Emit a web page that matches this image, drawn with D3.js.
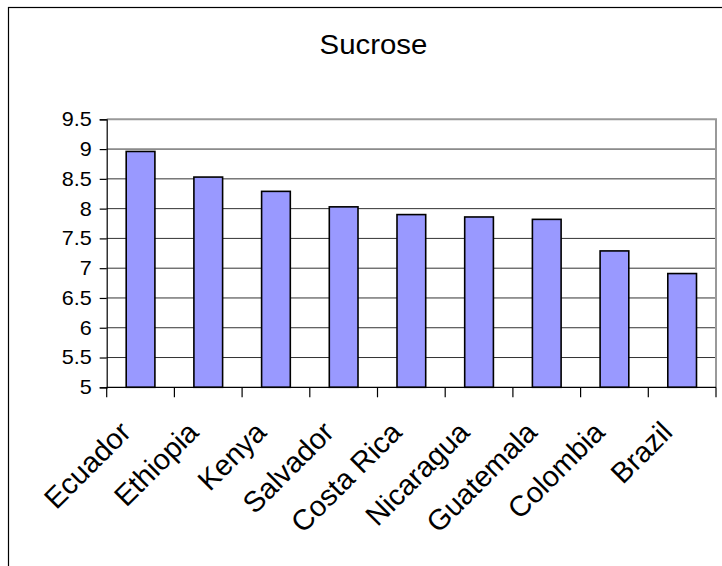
<!DOCTYPE html>
<html>
<head>
<meta charset="utf-8">
<script src="https://cdn.jsdelivr.net/npm/d3@7"></script>
<style>
  html, body { margin: 0; padding: 0; background: #fff; }
  svg { display: block; }
  text { font-family: "Liberation Sans", Arial, sans-serif; fill: #000; }
</style>
</head>
<body>
<svg id="chart" width="722" height="566"></svg>
<script>
// Sucrose content by origin
const countries = ["Ecuador", "Ethiopia", "Kenya", "Salvador", "Costa Rica",
                   "Nicaragua", "Guatemala", "Colombia", "Brazil"];
const sucrose = [8.96, 8.53, 8.29, 8.03, 7.90, 7.86, 7.82, 7.29, 6.91];
const yTicks = [5, 5.5, 6, 6.5, 7, 7.5, 8, 8.5, 9, 9.5];
const title = "Sucrose";

const svg = d3.select("#chart");
const plot = { left: 106.7, right: 716, top: 119.3, bottom: 387.3 };

// outer chart frame (extends beyond the view on right and bottom)
svg.append("rect")
  .attr("x", 8.5).attr("y", 7.5)
  .attr("width", 900).attr("height", 900)
  .attr("fill", "none").attr("stroke", "#000").attr("stroke-width", 1.2);

const x = d3.scaleBand()
  .domain(countries)
  .range([plot.left, plot.right])
  .paddingInner(0.576)
  .paddingOuter(0.288);

const y = d3.scaleLinear()
  .domain([5, 9.5])
  .range([plot.bottom, plot.top]);

// gridlines
svg.append("g")
  .selectAll("line")
  .data(yTicks.slice(1, -1))
  .join("line")
  .attr("x1", plot.left).attr("x2", plot.right)
  .attr("y1", d => y(d)).attr("y2", d => y(d))
  .attr("stroke", "#333").attr("stroke-width", 1);

// plot area border: top and right edges
svg.append("path")
  .attr("d", `M${plot.left},${plot.top}H${plot.right}V${plot.bottom}`)
  .attr("fill", "none").attr("stroke", "#999").attr("stroke-width", 2);

// bars
svg.append("g")
  .selectAll("rect")
  .data(countries)
  .join("rect")
  .attr("x", d => x(d))
  .attr("width", x.bandwidth())
  .attr("y", (d, i) => y(sucrose[i]))
  .attr("height", (d, i) => y(5) - y(sucrose[i]))
  .attr("fill", "#9999FF")
  .attr("stroke", "#000").attr("stroke-width", 1.6);

// y axis
const yAxis = svg.append("g")
  .attr("transform", `translate(${plot.left},0)`)
  .call(d3.axisLeft(y).tickValues(yTicks).tickSize(7).tickPadding(8)
    .tickFormat(d3.format("")));
yAxis.select(".domain").attr("stroke", "#000").attr("stroke-width", 1.2);
yAxis.selectAll(".tick line").attr("stroke", "#000").attr("stroke-width", 1.2);
yAxis.selectAll(".tick text")
  .attr("font-size", 20).attr("fill", "#000")
  .attr("x", -15 / 1.08)
  .attr("transform", "scale(1.08,1)")
  .style("font-family", '"Liberation Sans", Arial, sans-serif');

// x axis line with ticks at category boundaries
const step = x.step();
const boundaries = d3.range(countries.length + 1).map(i => plot.left + i * step);
svg.append("line")
  .attr("x1", plot.left).attr("x2", plot.right)
  .attr("y1", plot.bottom).attr("y2", plot.bottom)
  .attr("stroke", "#000").attr("stroke-width", 1.2);
svg.append("g")
  .selectAll("line")
  .data(boundaries)
  .join("line")
  .attr("x1", d => d).attr("x2", d => d)
  .attr("y1", plot.bottom).attr("y2", plot.bottom + 10)
  .attr("stroke", "#000").attr("stroke-width", 1.2);

// rotated category labels
svg.append("g")
  .selectAll("text")
  .data(countries)
  .join("text")
  .attr("transform", d =>
    `translate(${x(d) + x.bandwidth() / 2 - 8},434) rotate(-45)`)
  .attr("text-anchor", "end")
  .attr("font-size", 29)
  .text(d => d);

// title
svg.append("text")
  .attr("transform", "translate(373.5,54) scale(1.05,1)")
  .attr("text-anchor", "middle")
  .attr("font-size", 28)
  .text(title);
</script>
</body>
</html>
